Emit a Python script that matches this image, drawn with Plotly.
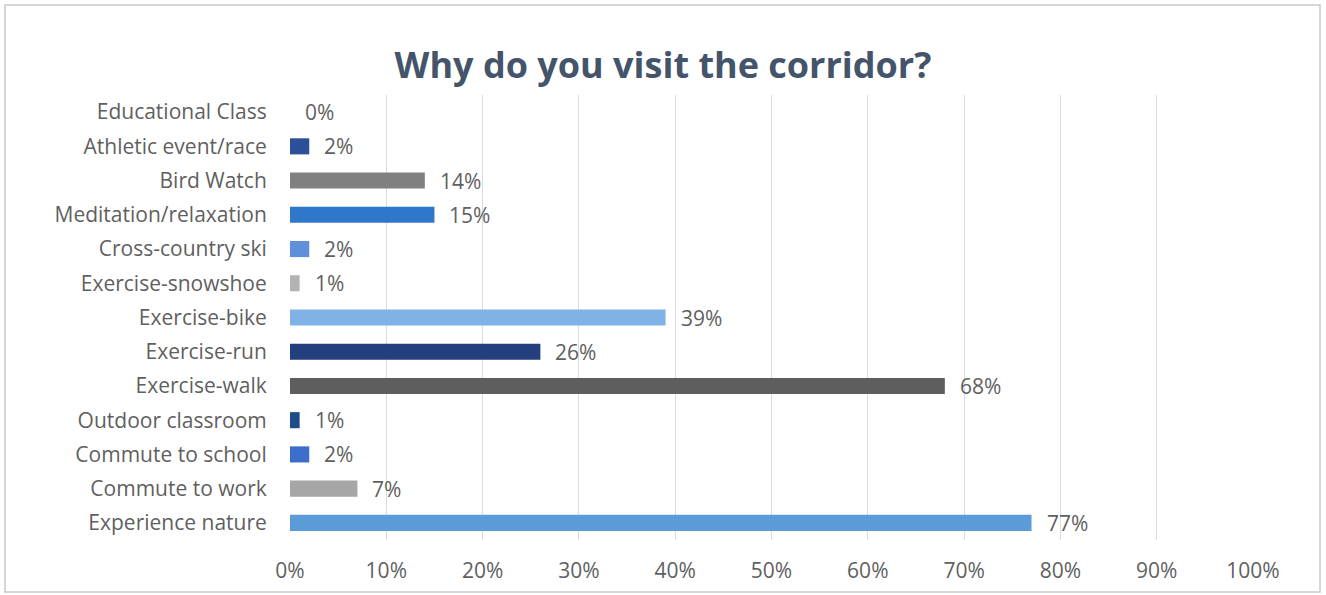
import plotly.graph_objects as go

# Survey responses, listed top to bottom as shown on the chart
categories = [
    "Educational Class",
    "Athletic event/race",
    "Bird Watch",
    "Meditation/relaxation",
    "Cross-country ski",
    "Exercise-snowshoe",
    "Exercise-bike",
    "Exercise-run",
    "Exercise-walk",
    "Outdoor classroom",
    "Commute to school",
    "Commute to work",
    "Experience nature",
]
percent = [0, 2, 14, 15, 2, 1, 39, 26, 68, 1, 2, 7, 77]
bar_colors = [
    "#2e5597", "#2c4f98", "#808080", "#2f77c9", "#5f90d9", "#b3b3b3",
    "#80b2e8", "#233f7d", "#5e5e5e", "#1f4c88", "#3b6dcb", "#a6a6a6", "#5b9bd8",
]
x_ticks = list(range(0, 101, 10))
x_tick_labels = [f"{t}%" for t in x_ticks]

W, H = 1326, 595
L, R, T, B = 290, 73, 95, 55
pw, ph = W - L - R, H - T - B

text_gray = "#5f5f5f"
font_family = "'Open Sans', Lato, sans-serif"
label_size = 21

fig = go.Figure(
    go.Bar(
        x=percent,
        y=categories,
        orientation="h",
        marker=dict(color=bar_colors, line=dict(width=0)),
        hoverinfo="x+y",
    )
)

# value labels just past each bar end
annotations = [
    dict(
        x=v, y=c, xref="x", yref="y", text=f"{v}%", showarrow=False,
        xanchor="left", yanchor="middle", xshift=13,
        font=dict(size=label_size, color=text_gray, family=font_family),
    )
    for c, v in zip(categories, percent)
]


def px_x(p):
    return (p - L) / pw


def px_y(p):
    return (H - B - p) / ph


fig.update_layout(
    width=W,
    height=H,
    margin=dict(l=L, r=R, t=T, b=B),
    paper_bgcolor="white",
    plot_bgcolor="white",
    bargap=0.53,
    showlegend=False,
    title=dict(
        text="<b>Why do you visit the corridor?</b>",
        x=0.5, xanchor="center", xref="container",
        y=1 - 65 / H, yanchor="middle",
        font=dict(size=36, color="#44546a", family=font_family),
    ),
    xaxis=dict(
        range=[0, 100],
        tickvals=x_ticks,
        ticktext=x_tick_labels,
        showgrid=True,
        gridcolor="#dcdcdc",
        gridwidth=1,
        zeroline=False,
        showline=False,
        ticks="outside",
        ticklen=12,
        tickcolor="rgba(0,0,0,0)",
        tickfont=dict(size=label_size, color=text_gray, family=font_family),
        fixedrange=True,
    ),
    yaxis=dict(
        categoryorder="array",
        categoryarray=categories,
        autorange="reversed",
        showgrid=False,
        zeroline=False,
        showline=False,
        ticks="outside",
        ticklen=18,
        tickcolor="rgba(0,0,0,0)",
        tickfont=dict(size=label_size, color=text_gray, family=font_family),
        fixedrange=True,
    ),
    annotations=annotations,
    shapes=[
        dict(
            type="rect", xref="paper", yref="paper",
            x0=px_x(5), x1=px_x(1320), y0=px_y(592), y1=px_y(5),
            line=dict(color="#c9c9c9", width=1.5), fillcolor="rgba(0,0,0,0)",
            layer="below",
        )
    ],
)

fig.write_html("out.html")
